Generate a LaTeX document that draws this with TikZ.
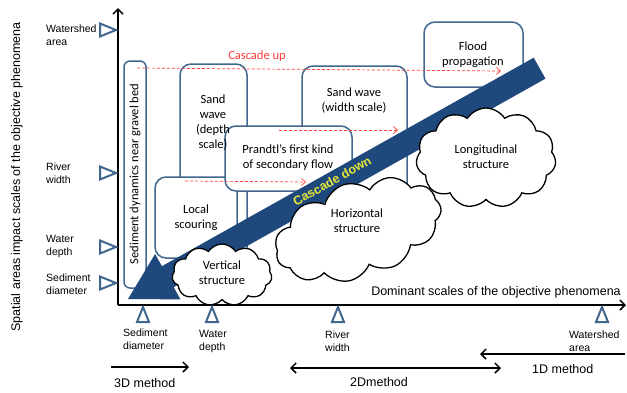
\documentclass[tikz,border=0pt]{standalone}
\usepackage{fontspec}
\setmainfont{Carlito}
\newfontfamily\arialf{Liberation Sans}
\usetikzlibrary{arrows.meta,shapes.symbols}
\definecolor{boxblue}{HTML}{41678F}
\definecolor{bandblue}{HTML}{1F497D}
\definecolor{cyel}{HTML}{E6E639}
\definecolor{cred}{HTML}{FF3B3B}
\tikzset{
  bx/.style={draw=boxblue, line width=1.5pt, fill=white, rounded corners=11pt},
  btxt/.style={font=\fontsize{12.5}{15}\selectfont, align=center, inner sep=0pt},
  atxt/.style={font=\arialf\fontsize{12.5}{15}\selectfont, inner sep=0pt},
  smalltxt/.style={font=\arialf\fontsize{10.5}{13}\selectfont, align=left, inner sep=0pt},
  tick/.style={draw=boxblue, line width=2pt, fill=white, line join=miter},
  redarr/.style={draw=cred, dash pattern=on 3pt off 2pt, line width=0.7pt, -{Straight Barb[length=4pt,width=7pt]}},
  axisline/.style={line width=1.5pt, -{Straight Barb[length=5pt,width=10pt]}},
  methodarr/.style={line width=1.5pt},
  cl/.style={cloud, cloud puffs=11, cloud puff arc=115, cloud ignores aspect, draw=black, line width=1.3pt, fill=white, inner sep=0pt}
}
\begin{document}
\begin{tikzpicture}[x=1pt,y=-1pt]
\useasboundingbox (0,0) rectangle (627,392);

% boxes
\draw[bx, rounded corners=6pt] (124,61) rectangle (146,288);
\draw[bx] (180,64) rectangle (247,262);
\draw[bx] (302,66) rectangle (407,205);
\draw[bx] (155,177) rectangle (237,258);
\draw[bx] (225,126) rectangle (352,191);
\draw[bx] (424,22) rectangle (523,87);

% box texts
\node[btxt, rotate=90] (sed) at (135,174) {Sediment dynamics near gravel bed};
\node[btxt] (swd) at (213,123) {Sand\\wave\\(depth\\scale)};
\node[btxt] (sww) at (354,101) {Sand wave\\(width scale)};
\node[btxt] (flood) at (473,55) {Flood\\propagation};
\node[btxt] (prandtl) at (288,158) {Prandtl's first kind\\of secondary flow};
\node[btxt] (local) at (196,218) {Local\\scouring};

% cascade up
\node[btxt, text=cred] (cup) at (257,56) {Cascade up};
\coordinate (u1s) at (137,68); \coordinate (u1e) at (501,71);
\coordinate (u2s) at (279,130); \coordinate (u2e) at (398,130);
\coordinate (u3s) at (185,181); \coordinate (u3e) at (306,182);
\draw[redarr] (u1s) -- (u1e);
\draw[redarr] (u2s) -- (u2e);
\draw[redarr] (u3s) -- (u3e);

% cascade down band
\fill[bandblue] (128,299) -- (155.1,254.0) -- (161.9,266.2) -- (533.7,57.7) -- (545.5,78.6) -- (173.7,287.2) -- (180.5,299.4) -- cycle;

% clouds
\node[cl, minimum width=140pt, minimum height=100pt] (clong) at (486,158) {};
\node[cl, rotate=18, minimum width=172pt, minimum height=95pt] (chor) at (358,230) {};
\node[cl, minimum width=100pt, minimum height=62pt] (cvert) at (222,275) {};
\node[btxt] (tlong) at (486,157) {Longitudinal\\structure};
\node[btxt] (thor) at (357,221) {Horizontal\\structure};
\node[btxt] (tvert) at (222,273) {Vertical\\structure};

\node[rotate=29.3, font=\arialf\bfseries\fontsize{12.5}{15}\selectfont, text=cyel, inner sep=0pt] (cdown) at (332,181) {Cascade down};

% axes
\coordinate (O) at (118,305);
\coordinate (ytop) at (118,8);
\coordinate (xend) at (626,305);
\draw[axisline] (O) -- (ytop);
\draw[axisline] (O) -- (xend);
\node[atxt, rotate=90] (ylab) at (17,177) {Spatial areas impact scales of the objective phenomena};
\node[atxt] (xlab) at (496,292) {Dominant scales of the objective phenomena};

% left ticks
\foreach \yy in {30,173,247,283}{
  \draw[tick] (100,\yy-6.5) -- (116,\yy) -- (100,\yy+6.5) -- cycle;
}
\node[smalltxt, anchor=west] (lws) at (46,35) {Watershed\\area};
\node[smalltxt, anchor=west] (lrw) at (46,173) {River\\width};
\node[smalltxt, anchor=west] (lwd) at (46,246) {Water\\depth};
\node[smalltxt, anchor=west] (lsd) at (46,284) {Sediment\\diameter};

% bottom ticks
\foreach \xx in {143,212,338,602}{
  \draw[tick] (\xx,307) -- (\xx+6,322) -- (\xx-6,322) -- cycle;
}
\node[smalltxt, anchor=west] (bsd) at (123,339) {Sediment\\diameter};
\node[smalltxt, anchor=west] (bwd) at (199,341) {Water\\depth};
\node[smalltxt, anchor=west] (brw) at (325,341) {River\\width};
\node[smalltxt, anchor=west] (bws) at (569,341) {Watershed\\area};

% methods
\coordinate (m3s) at (111,367); \coordinate (m3e) at (189,367);
\coordinate (m2s) at (290,368); \coordinate (m2e) at (501,368);
\coordinate (m1s) at (625,354); \coordinate (m1e) at (480,354);
\draw[methodarr, -{Straight Barb[length=5pt,width=10pt]}] (m3s) -- (m3e);
\draw[methodarr, {Straight Barb[length=5pt,width=10pt]}-{Straight Barb[length=5pt,width=10pt]}] (m2s) -- (m2e);
\draw[methodarr, -{Straight Barb[length=5pt,width=10pt]}] (m1s) -- (m1e);
\node[atxt, anchor=west] (t3d) at (114,383) {3D method};
\node[atxt, anchor=west] (t2d) at (350,382) {2Dmethod};
\node[atxt, anchor=west] (t1d) at (532,369) {1D method};
\end{tikzpicture}
\end{document}
